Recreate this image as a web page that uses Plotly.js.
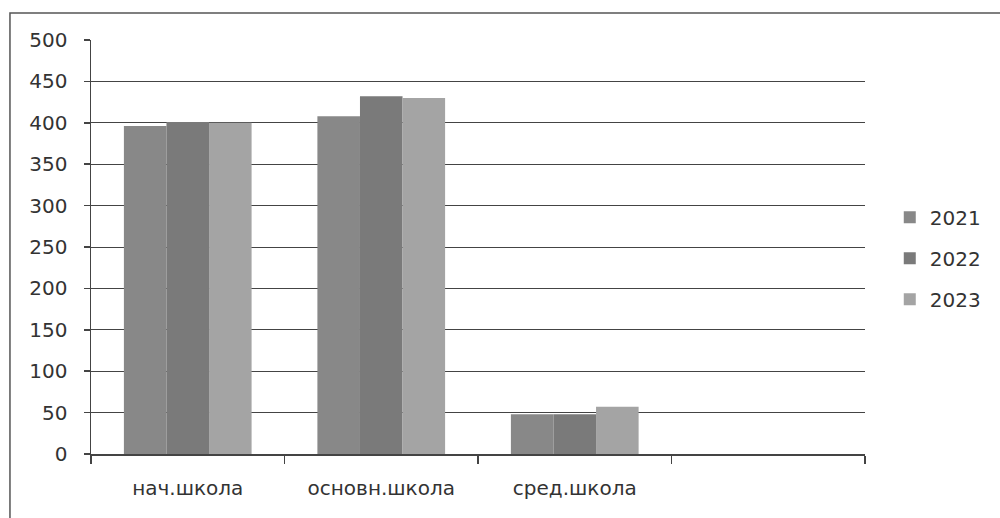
<!DOCTYPE html>
<html>
<head>
<meta charset="utf-8">
<script src="https://cdn.plot.ly/plotly-3.0.1.min.js"></script>
<style>
html,body{margin:0;padding:0;background:#fff;}
#chart{width:1000px;height:518px;}
</style>
</head>
<body>
<div id="chart"></div>
<script>
var categories = ["нач.школа", "основн.школа", "сред.школа", " "];
var seriesNames = ["2021", "2022", "2023"];
var values2021 = [396, 408, 48, null];
var values2022 = [401, 432, 48, null];
var values2023 = [400, 430, 57, null];
var yTicks = [0, 50, 100, 150, 200, 250, 300, 350, 400, 450, 500];

var colors = ["#888888", "#7a7a7a", "#a4a4a4"];
var allValues = [values2021, values2022, values2023];

var traces = allValues.map(function (vals, i) {
  return {
    type: "bar",
    name: seriesNames[i],
    x: categories,
    y: vals,
    marker: { color: colors[i], line: { width: 0 } },
    legendgroup: "g" + i,
    hoverinfo: "x+y+name"
  };
});

var font = { family: "DejaVu Sans, sans-serif", size: 20, color: "#333" };

var layout = {
  width: 1000,
  height: 518,
  margin: { l: 91, r: 135, t: 40, b: 64, pad: 0 },
  paper_bgcolor: "#fff",
  plot_bgcolor: "#fff",
  barmode: "group",
  bargap: 0.34,
  bargroupgap: 0,
  font: font,
  showlegend: true,
  legend: {
    x: 1.032, xanchor: "left",
    y: 0.473, yanchor: "middle",
    font: font,
    tracegroupgap: 12,
    bgcolor: "rgba(0,0,0,0)"
  },
  xaxis: {
    type: "category",
    categoryorder: "array",
    categoryarray: categories,
    showline: true,
    linecolor: "#444",
    linewidth: 1.5,
    ticks: "outside",
    tickson: "boundaries",
    ticklen: 8,
    tickwidth: 1.5,
    tickcolor: "#444",
    showgrid: false,
    zeroline: false,
    ticklabelstandoff: 15,
    tickfont: font,
    fixedrange: true
  },
  yaxis: {
    range: [0, 500],
    tickvals: yTicks,
    ticktext: yTicks.map(String),
    showline: true,
    linecolor: "#444",
    linewidth: 1.5,
    ticks: "outside",
    ticklen: 6,
    tickwidth: 1.5,
    tickcolor: "#444",
    showgrid: true,
    gridcolor: "#444",
    gridwidth: 1,
    zeroline: false,
    ticklabelstandoff: 12,
    tickfont: font,
    fixedrange: true
  },
  shapes: [{
    type: "rect",
    xref: "paper", yref: "paper",
    x0: -0.1047, x1: 1.3,
    y0: -0.3, y1: 1.065,
    line: { color: "#555", width: 1.5 },
    fillcolor: "rgba(0,0,0,0)",
    layer: "below"
  }]
};

Plotly.newPlot("chart", traces, layout, { displayModeBar: false, staticPlot: true });
</script>
</body>
</html>
